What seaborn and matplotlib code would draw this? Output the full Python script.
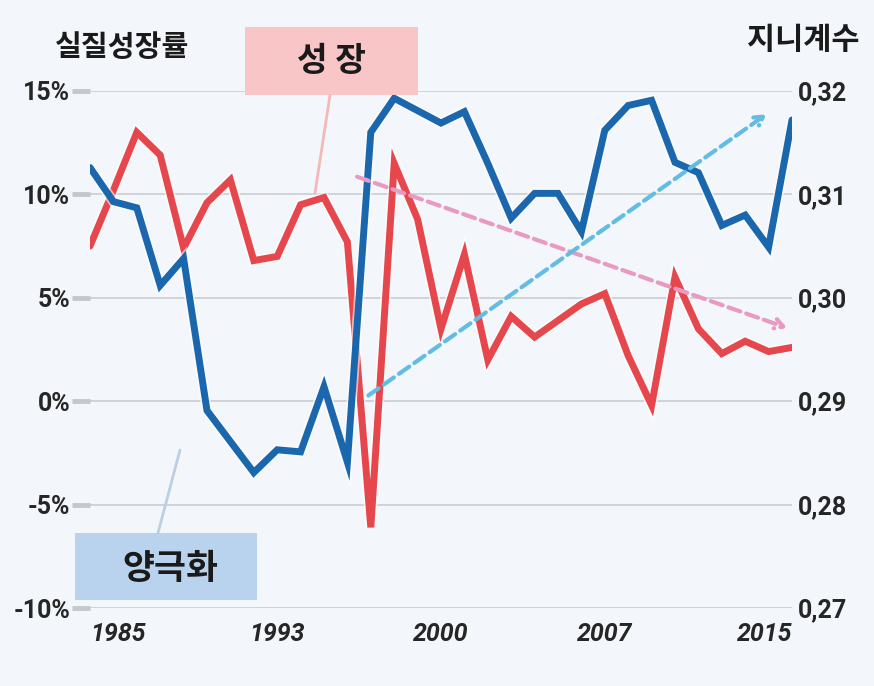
import matplotlib
matplotlib.use('Agg')
import matplotlib.pyplot as plt
import matplotlib.patheffects as pe
from matplotlib.patches import Rectangle
from matplotlib.lines import Line2D
import pandas as pd
import seaborn as sns

# data
years = list(range(1985, 2016))
growth = [7.5, 10.2, 13.0, 11.9, 7.4, 9.6, 10.7, 6.8, 7.0, 9.5, 9.85, 7.7, -6.1,
          11.5, 8.8, 3.5, 7.1, 2.0, 4.1, 3.1, 3.9, 4.7, 5.2, 2.2, -0.2, 6.0, 3.5,
          2.3, 2.9, 2.4, 2.6]
gini = [0.3126, 0.3093, 0.3087, 0.3012, 0.3038, 0.2891, 0.2861, 0.2831, 0.2853,
        0.2851, 0.2914, 0.2841, 0.3160, 0.3193, 0.3181, 0.3169, 0.3180, 0.3130,
        0.3077, 0.3101, 0.3101, 0.3064, 0.3162, 0.3186, 0.3191, 0.3131, 0.3121,
        0.3070, 0.3080, 0.3049, 0.3172]

growth_ticks = [-10, -5, 0, 5, 10, 15]
growth_labels = ['-10%', '-5%', '0%', '5%', '10%', '15%']
gini_ticks = [0.27, 0.28, 0.29, 0.30, 0.31, 0.32]
gini_labels = ['0,27', '0,28', '0,29', '0,30', '0,31', '0,32']
year_ticks = [1985, 1993, 2000, 2007, 2015]

# trend arrows (start, end)
growth_trend = [(1996.3, 10.9), (2014.9, 3.5)]
gini_trend = [(1996.8, 0.2904), (2014.0, 0.3179)]

df = pd.DataFrame({'year': years, 'growth': growth, 'gini': gini})

sns.set_style('white')
KR = ['Noto Sans CJK KR', 'DejaVu Sans']
NUM = ['Roboto', 'DejaVu Sans']
plt.rcParams['font.family'] = KR

RED = '#e6474c'
BLUE = '#1b67ad'
BG = '#f3f6fa'

fig = plt.figure(figsize=(8.74, 6.86), dpi=100, facecolor=BG)
ax = fig.add_axes([90 / 874, 1 - 608 / 686, 702 / 874, 517 / 686])
ax.set_facecolor('none')
ax2 = ax.twinx()

halo = [pe.Stroke(linewidth=7.5, foreground='white', alpha=0.6), pe.Normal()]
sns.lineplot(data=df, x='year', y='growth', ax=ax, color=RED, linewidth=5,
             solid_joinstyle='miter', path_effects=halo, zorder=3)
sns.lineplot(data=df, x='year', y='gini', ax=ax2, color=BLUE, linewidth=5,
             solid_joinstyle='miter', path_effects=halo, zorder=3)

ax.set_xlim(1985, 2015)
ax.set_ylim(-10, 15)
ax2.set_ylim(0.27, 0.32)

for y in growth_ticks:
    ax.axhline(y, color='#c9cdd2', linewidth=1.2, zorder=0)

ax.set_yticks(growth_ticks)
ax.set_yticklabels(growth_labels, family=NUM, fontsize=18, fontweight='bold')
ax.tick_params(axis='y', length=13, width=3.5, color='#c4c7cc', pad=1)
ax2.set_yticks(gini_ticks)
ax2.set_yticklabels(gini_labels, family=NUM, fontsize=18, fontweight='bold')
ax2.tick_params(axis='y', length=0, pad=4)

ax.set_xticks(year_ticks)
ax.set_xticklabels([str(y) for y in year_ticks], family=NUM, fontsize=18,
                   fontstyle='italic', fontweight='bold')
ax.tick_params(axis='x', length=0, pad=10)
xl = ax.get_xticklabels()
xl[0].set_ha('left')
xl[-1].set_ha('right')

ax.set_xlabel('')
ax.set_ylabel('')
ax2.set_ylabel('')
for a in (ax, ax2):
    for s in a.spines.values():
        s.set_visible(False)

# dashed trend arrows
ax2.annotate('', xy=growth_trend[1], xytext=growth_trend[0],
             xycoords=ax.transData, textcoords=ax.transData,
             arrowprops=dict(arrowstyle='->,head_length=0.6,head_width=0.35',
                             linestyle=(0, (3, 1.5)), color='#e99ac3', lw=3),
             zorder=5)
ax2.annotate('', xy=gini_trend[1], xytext=gini_trend[0],
             arrowprops=dict(arrowstyle='->,head_length=0.6,head_width=0.35',
                             linestyle=(0, (3, 1.5)), color='#63bde3', lw=3),
             zorder=5)

# axis titles
fig.text(55 / 874, 1 - 47 / 686, '실질성장률', fontsize=21, fontweight='bold',
         ha='left', va='center', color='#1a1a1a')
fig.text(860 / 874, 1 - 40 / 686, '지니계수', fontsize=22, fontweight='bold',
         ha='right', va='center', color='#1a1a1a')

# callout boxes
fig.add_artist(Line2D([330 / 874, 315 / 874], [1 - 95 / 686, 1 - 193 / 686],
                      color='#f3b9b9', linewidth=2))
fig.add_artist(Rectangle((245 / 874, 1 - 95 / 686), 173 / 874, 68 / 686,
                         facecolor='#f8c6c6', edgecolor='none'))
fig.text(331 / 874, 1 - 62 / 686, '성 장', fontsize=24, fontweight='bold',
         ha='center', va='center', color='#1a1a1a')

fig.add_artist(Line2D([158 / 874, 180 / 874], [1 - 533 / 686, 1 - 450 / 686],
                      color='#bccfe3', linewidth=2))
fig.add_artist(Rectangle((75 / 874, 1 - 600 / 686), 182 / 874, 67 / 686,
                         facecolor='#b9d3ee', edgecolor='none'))
fig.text(170 / 874, 1 - 568 / 686, '양극화', fontsize=25, fontweight='bold',
         ha='center', va='center', color='#1a1a1a')

fig.savefig('out.png', dpi=100, facecolor=BG)
